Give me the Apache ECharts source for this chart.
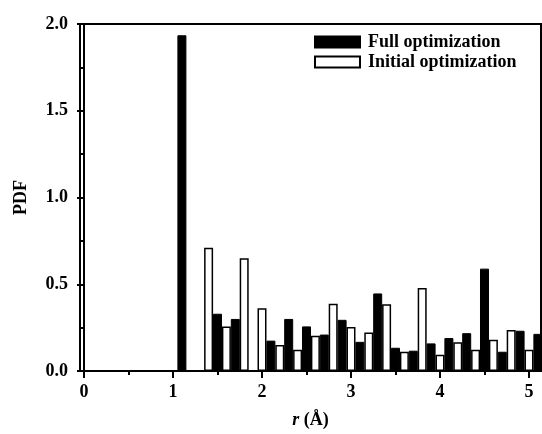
<!DOCTYPE html>
<html lang="en">
<head>
    <meta charset="UTF-8">
    <title>PDF</title>
    <script src="https://cdn.jsdelivr.net/npm/echarts@6/dist/echarts.min.js"></script>
    <style>
        html, body { margin: 0; padding: 0; background: #fff; }
        #chart { width: 542px; height: 434px; }
    </style>
</head>
<body>
    <div id="chart"></div>
    <script>
        const fullR = [1.1, 1.5, 1.7, 2.1, 2.3, 2.5, 2.7, 2.9, 3.1, 3.3, 3.5, 3.7, 3.9, 4.1, 4.3, 4.5, 4.7, 4.9, 5.1];
        const fullPDF = [1.935, 0.33, 0.30, 0.175, 0.30, 0.257, 0.21, 0.295, 0.168, 0.447, 0.134, 0.117, 0.159, 0.19, 0.218, 0.59, 0.111, 0.232, 0.214];
        const initR = [1.4, 1.6, 1.8, 2.0, 2.2, 2.4, 2.6, 2.8, 3.0, 3.2, 3.4, 3.6, 3.8, 4.0, 4.2, 4.4, 4.6, 4.8, 5.0];
        const initPDF = [0.71, 0.257, 0.65, 0.362, 0.15, 0.122, 0.203, 0.387, 0.254, 0.222, 0.385, 0.111, 0.479, 0.094, 0.165, 0.122, 0.18, 0.236, 0.122];
        const xMajor = [0, 1, 2, 3, 4, 5];
        const xMinor = [0.5, 1.5, 2.5, 3.5, 4.5];

        const font = 'Liberation Serif';
        const line = { color: '#000', width: 2 };

        const chart = echarts.init(document.getElementById('chart'));
        chart.setOption({
            animation: false,
            grid: { left: 80, right: 1, top: 24, bottom: 62, show: true, borderColor: '#000', borderWidth: 2 },
            legend: {
                orient: 'vertical',
                left: 314, top: 33, padding: 0,
                itemWidth: 45, itemHeight: 11, itemGap: 2,
                textStyle: { fontFamily: font, fontWeight: 'bold', fontSize: 18, color: '#000', padding: [0, 0, 0, 3] },
                data: [
                    { name: 'Full optimization', icon: 'rect' },
                    { name: 'Initial optimization', icon: 'rect' }
                ]
            },
            xAxis: [{
                type: 'value', min: -0.045, max: 5.135,
                axisLine: { lineStyle: line },
                axisTick: { show: true, inside: false, length: 7, lineStyle: line, customValues: xMajor },
                axisLabel: { customValues: xMajor, margin: 12, fontFamily: font, fontWeight: 'bold', fontSize: 18, color: '#000' },
                splitLine: { show: false },
                name: '{i|r} (Å)',
                nameLocation: 'middle', nameGap: 40,
                nameTextStyle: {
                    fontFamily: font, fontWeight: 'bold', fontSize: 18, color: '#000',
                    rich: { i: { fontFamily: font, fontWeight: 'bold', fontStyle: 'italic', fontSize: 18, color: '#000' } }
                }
            }, {
                type: 'value', min: -0.045, max: 5.135, position: 'bottom',
                axisLine: { show: false },
                axisTick: { show: true, inside: false, length: 4, lineStyle: line, customValues: xMinor },
                axisLabel: { show: false },
                splitLine: { show: false }
            }],
            yAxis: {
                type: 'value', min: 0, max: 2, interval: 0.5,
                axisLine: { show: true, lineStyle: line },
                axisTick: { show: true, inside: false, length: 7, lineStyle: line },
                minorTick: { show: true, splitNumber: 2, length: 4, lineStyle: line },
                axisLabel: { margin: 12, fontFamily: font, fontWeight: 'bold', fontSize: 18, color: '#000', formatter: v => v.toFixed(1) },
                splitLine: { show: false },
                name: 'PDF', nameLocation: 'middle', nameGap: 50, nameRotate: 90,
                nameTextStyle: { fontFamily: font, fontWeight: 'bold', fontSize: 18, color: '#000' }
            },
            series: [{
                name: 'Full optimization', type: 'bar', xAxisIndex: 0,
                barWidth: 9, barGap: '-100%',
                itemStyle: { color: '#000', borderColor: '#000', borderWidth: 1 },
                data: fullR.map((r, i) => [r, fullPDF[i]])
            }, {
                name: 'Initial optimization', type: 'bar', xAxisIndex: 0,
                barWidth: 9, barGap: '-100%',
                itemStyle: { color: '#fff', borderColor: '#000', borderWidth: 1.5 },
                data: initR.map((r, i) => [r, initPDF[i]])
            }]
        });
    </script>
</body>
</html>
